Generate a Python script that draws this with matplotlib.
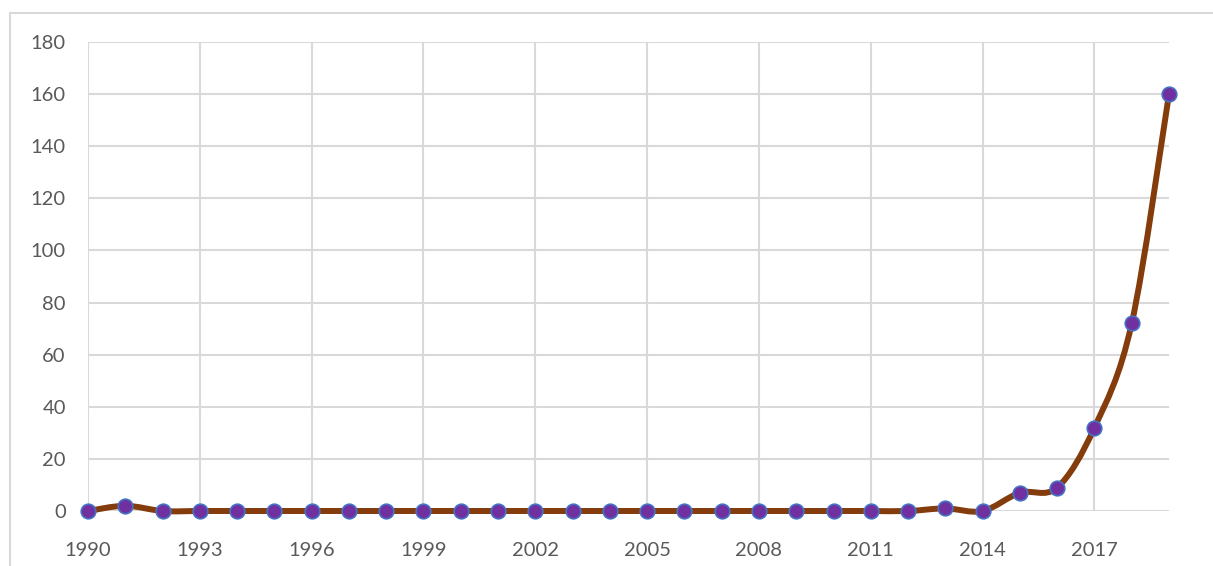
import numpy as np
import matplotlib
matplotlib.use("Agg")
import matplotlib.pyplot as plt
from matplotlib.path import Path
from matplotlib.patches import PathPatch, Rectangle

# data
years = list(range(1990, 2020))
counts = [0, 2, 0, 0, 0, 0, 0, 0, 0, 0,
          0, 0, 0, 0, 0, 0, 0, 0, 0, 0,
          0, 0, 0, 1, 0, 7, 9, 32, 72, 160]
xticks = list(range(1990, 2018, 3))
yticks = list(range(0, 181, 20))

plt.rcParams['font.family'] = ['Lato', 'DejaVu Sans']

W, H = 1213, 566
fig = plt.figure(figsize=(W / 100, H / 100), dpi=100)
fig.patches.append(Rectangle((10 / W, -0.1), 1.2, 1 - 13 / H + 0.1,
                             transform=fig.transFigure, fill=False,
                             edgecolor='#d9d9d9', linewidth=1.5))

ax = fig.add_axes([88 / W, 1 - 511 / H, (1169 - 88) / W, (511 - 42) / H])
ax.set_xlim(1990, 2019)
ax.set_ylim(0, 180)
for s in ax.spines.values():
    s.set_visible(False)
ax.set_xticks(xticks)
ax.set_yticks(yticks)
ax.grid(True, color='#d9d9d9', linewidth=1.5)
ax.set_axisbelow(True)
ax.tick_params(length=0, labelsize=14.5, labelcolor='#595959')
ax.tick_params(axis='y', pad=16)
ax.tick_params(axis='x', pad=22)

# Excel-style smoothed line (cardinal spline as bezier segments)
x = np.array(years, float)
y = np.array(counts, float)
verts = [(x[0], y[0])]
codes = [Path.MOVETO]
n = len(x)
for i in range(n - 1):
    p0 = i - 1 if i > 0 else i
    p3 = i + 2 if i + 2 < n else i + 1
    c1 = (x[i] + (x[i + 1] - x[p0]) / 6, y[i] + (y[i + 1] - y[p0]) / 6)
    c2 = (x[i + 1] - (x[p3] - x[i]) / 6, y[i + 1] - (y[p3] - y[i]) / 6)
    verts += [c1, c2, (x[i + 1], y[i + 1])]
    codes += [Path.CURVE4] * 3
ax.add_patch(PathPatch(Path(verts, codes), facecolor='none', edgecolor='#843C0C',
                       linewidth=4.3, capstyle='round', joinstyle='round',
                       clip_on=False, zorder=3))
ax.plot(years, counts, linestyle='', marker='o', markersize=10.5,
        markerfacecolor='#7030A0', markeredgecolor='#4472C4',
        markeredgewidth=1.2, clip_on=False, zorder=4)

fig.savefig('out.png', dpi=100)
